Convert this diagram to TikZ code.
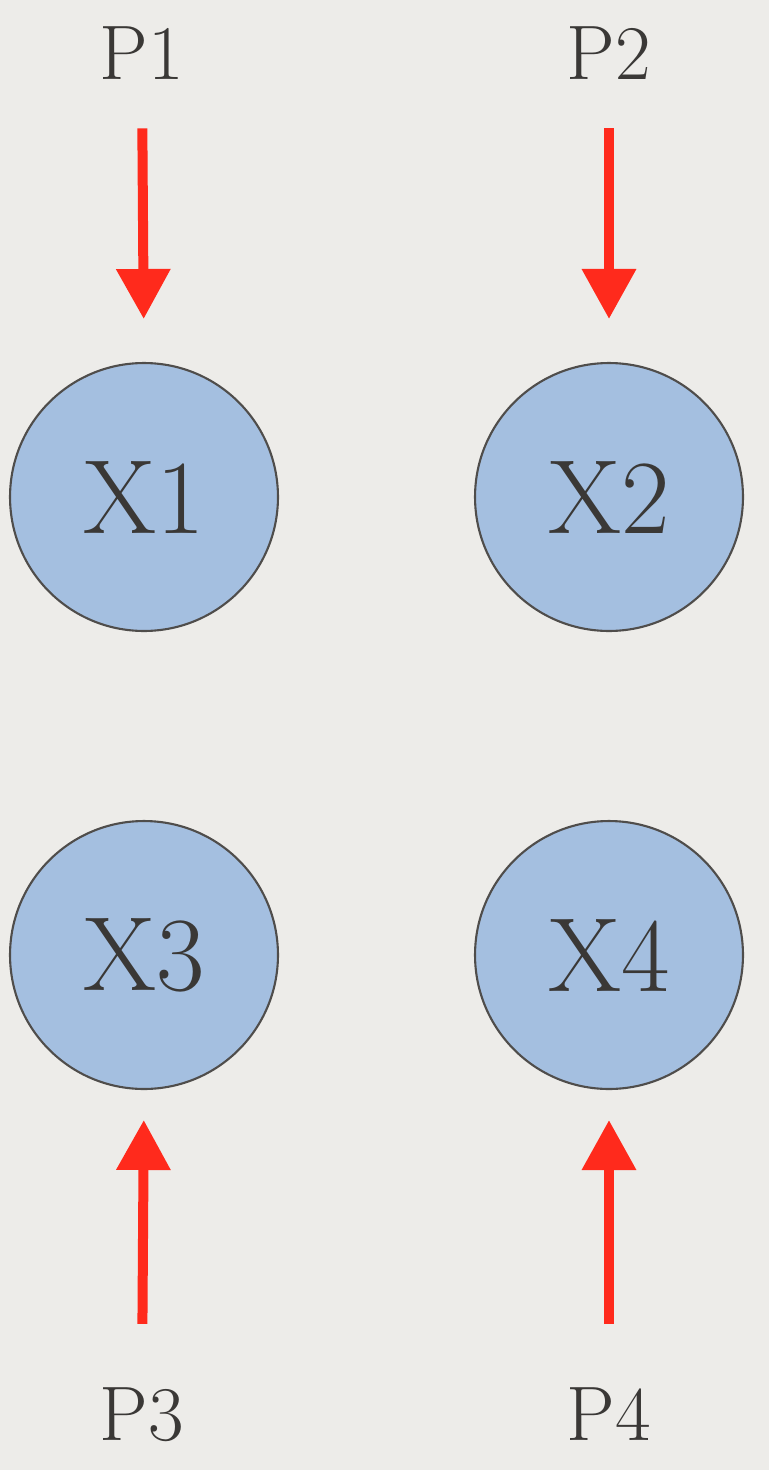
\documentclass[tikz,border=0pt]{standalone}
\usepackage{tikz}
\usetikzlibrary{arrows.meta}
\definecolor{Paper}{HTML}{EDECE9}
\definecolor{NodeFill}{HTML}{A4BFE0}
\definecolor{NodeEdge}{HTML}{4F4D4B}
\definecolor{InkText}{HTML}{3A3836}
\definecolor{PushRed}{HTML}{FF2A1C}
\tikzset{
varnode/.style={circle, draw=NodeEdge, line width=1.2pt, fill=NodeFill, minimum size=5.36cm, inner sep=0pt, text=InkText, font=\fontsize{60}{66}\selectfont},
plabel/.style={inner sep=0pt, text=InkText, font=\fontsize{44}{50}\selectfont},
pusharrow/.style={-{Triangle[width=1.04cm, length=1cm]}, line width=0.2cm, draw=PushRed}
}
\begin{document}
\begin{tikzpicture}[x=0.02cm, y=-0.02cm]
  \fill[Paper] (0,0) rectangle (769,1470);
  \useasboundingbox (0,0) rectangle (769,1470);
  \node[varnode] (x1) at (144,497) {X1};
  \node[varnode] (x2) at (609,497) {X2};
  \node[varnode] (x3) at (144,955) {X3};
  \node[varnode] (x4) at (609,955) {X4};
  \node[plabel, anchor=base] (p1) at (142,80) {P1};
  \node[plabel, anchor=base] (p2) at (609,80) {P2};
  \node[plabel, anchor=base] (p3) at (142,1440) {P3};
  \node[plabel, anchor=base] (p4) at (609,1440) {P4};
  \draw[pusharrow, shorten <=0.96cm, shorten >=0.86cm] (p1.south) -- (x1.north);
  \draw[pusharrow, shorten <=0.96cm, shorten >=0.86cm] (p2.south) -- (x2.north);
  \draw[pusharrow, shorten <=1.26cm, shorten >=0.6cm] (p3.north) -- (x3.south);
  \draw[pusharrow, shorten <=1.26cm, shorten >=0.6cm] (p4.north) -- (x4.south);
\end{tikzpicture}
\end{document}
